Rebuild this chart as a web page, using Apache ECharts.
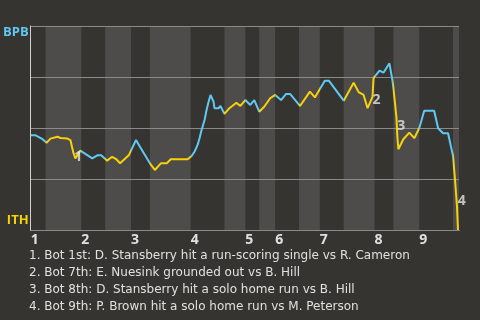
<!DOCTYPE html>
<html><head><meta charset="utf-8">
<style>html,body{margin:0;padding:0;background:#363430;}#c{width:480px;height:320px;}</style>
<script src="https://cdn.jsdelivr.net/npm/echarts@6/dist/echarts.min.js"></script>
</head><body><div id="c"></div>
<script>
// Game progress (x) and BPB win probability % (y)
const progress = [0,5,12,16,20,27,30,37,40,43,45,50,55,62,67,71,77,82,86,90,99,101,106,110,120,125,131,137,141,158,162,165,168,170,172,175,177,179,181,184,185,189,191,195,200,207,211,216,221,225,230,235,241,246,252,257,261,271,281,286,290,296,300,315,325,330,335,339,341,344,345,351,355,361,364,365,368,369,370,375,381,386,391,396,406,410,415,420,421,425,427,429,430];
const winProb = [46.4,46.4,44.5,42.8,44.8,45.7,45.1,44.8,44.1,37.9,35.1,38.9,37.3,35.1,36.6,36.6,34.0,35.9,34.8,32.7,36.8,37.6,44.1,40.8,32.7,29.4,32.7,32.7,34.7,34.7,36.3,38.5,41.7,45.1,49.0,53.9,58.8,62.7,66.2,62.9,59.7,59.7,60.8,56.9,59.7,62.4,60.8,63.7,61.3,63.7,58.0,60.4,64.6,66.2,63.7,66.7,66.7,60.8,67.8,65.0,68.3,73.2,73.2,63.4,72.2,67.6,66.2,59.7,59.2,65.3,74.4,78.1,77.1,81.7,73.5,69.5,55.5,45.7,39.6,44.5,47.7,45.0,49.9,58.5,58.5,49.9,47.4,47.4,48.2,36.3,24.5,11.4,0];
// Half-inning boundaries (top, bottom alternating)
const halfInningBounds = [0,15,51,75,101,120,161,195,216,230,246,270,291,315,346,365,391,425,431];
const inningLabels = ['1','2','3','4','5','6','7','8','9'];
const teamTop = 'BPB';
const teamBottom = 'ITH';
// Key events
const eventNums = ['1','2','3','4'];
const eventX = [48,348,373,433.7];
const eventY = [35.9,63.7,51,14.4];
const eventTexts = [
  'Bot 1st: D. Stansberry hit a run-scoring single vs R. Cameron',
  'Bot 7th: E. Nuesink grounded out vs B. Hill',
  'Bot 8th: D. Stansberry hit a solo home run vs B. Hill',
  'Bot 9th: P. Brown hit a solo home run vs M. Peterson'
];

const BLUE = '#5fc9f3', YELLOW = '#f7d10a';
const inningStarts = halfInningBounds.filter((v, i) => i % 2 === 0 && i < halfInningBounds.length - 1);
const pieces = [], bands = [];
for (let i = 0; i < halfInningBounds.length - 1; i++) {
  const a = halfInningBounds[i], b = halfInningBounds[i + 1];
  const last = i === halfInningBounds.length - 2;
  const p = { gte: a, color: i % 2 === 0 ? BLUE : YELLOW };
  if (!last) p.lt = b; 
  pieces.push(p);
  if (i % 2 === 1) bands.push([{ xAxis: a }, { xAxis: b }]);
}
const FONT = '"Open Sans","Noto Sans",sans-serif';
const TEXT_FONT = '"DejaVu Sans",sans-serif';
const chart = echarts.init(document.getElementById('c'), null, { renderer: 'canvas' });
chart.setOption({
  backgroundColor: '#363430',
  animation: false,
  grid: { left: 28, right: 21, top: 26, bottom: 90, containLabel: false },
  xAxis: {
    type: 'value', min: 0, max: halfInningBounds[halfInningBounds.length - 1],
    axisLine: { show: true, lineStyle: { color: '#d0d0d0', width: 1 } },
    axisTick: { show: false },
    splitLine: { show: false },
    axisLabel: {
      customValues: inningStarts, align: 'left', margin: 3,
      color: '#e0e0e0', fontWeight: 'bold', fontSize: 14, fontFamily: FONT,
      formatter: v => inningLabels[inningStarts.indexOf(v)] || ''
    }
  },
  yAxis: {
    type: 'value', min: 0, max: 100, interval: 25, z: 3,
    axisLine: { show: true, lineStyle: { color: '#d0d0d0', width: 1 } },
    axisTick: { show: false },
    splitLine: { show: true, lineStyle: { color: '#8a8a8a', width: 1 } },
    axisLabel: {
      margin: 2, fontFamily: FONT,
      formatter: v => v === 100 ? '{b|' + teamTop + '}' : (v === 0 ? '{i|' + teamBottom + '}' : ''),
      rich: {
        b: { color: BLUE, fontWeight: 'bold', fontSize: 13, fontFamily: FONT, padding: [13, 0, 0, 0] },
        i: { color: YELLOW, fontWeight: 'bold', fontSize: 13, fontFamily: FONT, padding: [0, 0, 19, 0] }
      }
    }
  },
  visualMap: { show: false, type: 'piecewise', dimension: 0, seriesIndex: 1, pieces: pieces },
  series: [
    { type: 'line', z: 1, data: [], silent: true,
      markArea: { silent: true, itemStyle: { color: '#4d4c4a' }, data: bands } },
    { type: 'line', z: 4, showSymbol: false, symbol: 'none',
      lineStyle: { width: 2 },
      data: progress.map((x, i) => [x, winProb[i]]) },
    { type: 'scatter', z: 5, clip: false, symbolSize: 1, itemStyle: { color: 'rgba(0,0,0,0)' },
      data: eventX.map((x, i) => [x, eventY[i]]),
      label: { show: true, position: 'inside', color: '#e6e6e6', fontWeight: 'bold', fontSize: 14, fontFamily: FONT,
        formatter: p => eventNums[p.dataIndex] } }
  ],
  graphic: [{
    type: 'text', left: 29, top: 247,
    style: {
      text: eventTexts.map((t, i) => eventNums[i] + '. ' + t).join('\n'),
      fill: '#e0e0e0', fontSize: 12, fontFamily: TEXT_FONT, lineHeight: 17
    }
  }]
});
</script></body></html>
